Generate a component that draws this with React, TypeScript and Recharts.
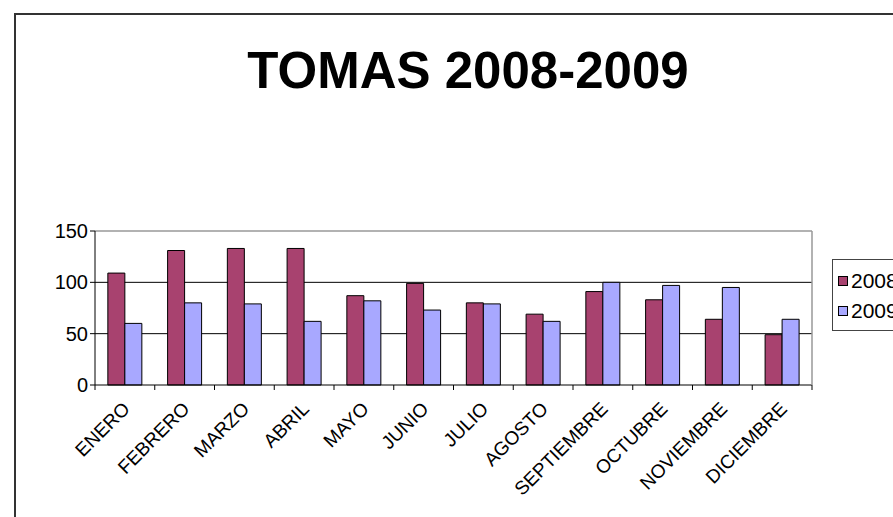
import {
  BarChart,
  Bar,
  XAxis,
  YAxis,
  CartesianGrid,
  Legend,
  ReferenceLine,
} from "recharts";

const meses = [
  "ENERO",
  "FEBRERO",
  "MARZO",
  "ABRIL",
  "MAYO",
  "JUNIO",
  "JULIO",
  "AGOSTO",
  "SEPTIEMBRE",
  "OCTUBRE",
  "NOVIEMBRE",
  "DICIEMBRE",
];
const tomas2008 = [109, 131, 133, 133, 87, 99, 80, 69, 91, 83, 64, 49];
const tomas2009 = [60, 80, 79, 62, 82, 73, 79, 62, 100, 97, 95, 64];
const yTicks = [0, 50, 100, 150];

const series = [
  { key: "s2008", name: "2008", color: "#A8426F" },
  { key: "s2009", name: "2009", color: "#A8A8FF" },
];

const data = meses.map((mes, i) => ({
  mes,
  s2008: tomas2008[i],
  s2009: tomas2009[i],
}));

const FONT = "'Liberation Sans', Arial, sans-serif";

// Excel-style category axis: tick marks sit between categories, labels slanted
function MonthTick(props: any) {
  const { x, y, payload, index, width } = props;
  const half = payload?.offset ?? width / meses.length / 2;
  const axisY = y - 8;
  const tx = x + 6;
  const ty = axisY + 25;
  return (
    <g>
      <line x1={x - half} y1={axisY} x2={x - half} y2={axisY + 5} stroke="#000" />
      {index === meses.length - 1 && (
        <line x1={x + half} y1={axisY} x2={x + half} y2={axisY + 5} stroke="#000" />
      )}
      <text
        x={tx}
        y={ty}
        transform={`rotate(-45, ${tx}, ${ty})`}
        textAnchor="end"
        fontSize={19}
        fontFamily={FONT}
        fill="#000"
      >
        {payload.value}
      </text>
    </g>
  );
}

function LegendBox(props: any) {
  const items = props.payload ?? [];
  return (
    <div
      style={{
        border: "1.5px solid #444",
        background: "#fff",
        width: 90,
        height: 72,
        paddingTop: 6,
        boxSizing: "border-box",
        fontFamily: FONT,
        fontSize: 21,
        color: "#000",
      }}
    >
      {items.map((it: any) => (
        <div
          key={it.value}
          style={{ display: "flex", alignItems: "center", height: 30, paddingLeft: 5 }}
        >
          <span
            style={{
              display: "inline-block",
              width: 8,
              height: 8,
              border: "1px solid #000",
              background: it.color,
              marginRight: 3,
            }}
          />
          {it.value}
        </div>
      ))}
    </div>
  );
}

export default function App() {
  return (
    <div
      style={{
        position: "absolute",
        left: 0,
        top: 0,
        width: 893,
        height: 517,
        overflow: "hidden",
        background: "#fff",
      }}
    >
      <div
        style={{
          position: "absolute",
          left: 14,
          top: 13,
          width: 950,
          height: 600,
          border: "2px solid #333",
        }}
      />
      <div
        style={{
          position: "absolute",
          left: 0,
          top: 45,
          width: 936,
          textAlign: "center",
          fontFamily: FONT,
          fontWeight: "bold",
          fontSize: 51,
          lineHeight: "51px",
          color: "#000",
        }}
      >
        TOMAS 2008-2009
      </div>
      <div style={{ position: "absolute", left: 0, top: 0 }}>
        <BarChart
          width={893}
          height={517}
          data={data}
          margin={{ top: 231, right: 80, bottom: 0, left: 0 }}
          barCategoryGap="21.5%"
          barGap={0}
        >
          <CartesianGrid
            vertical={false}
            horizontalValues={[50, 100]}
            stroke="#000"
            strokeWidth={1}
          />
          <ReferenceLine y={150} stroke="#999" strokeWidth={1.5} />
          <XAxis
            dataKey="mes"
            interval={0}
            height={132}
            axisLine={{ stroke: "#000" }}
            tickLine={false}
            tick={<MonthTick />}
          />
          <YAxis
            domain={[0, 150]}
            ticks={yTicks}
            width={95}
            axisLine={{ stroke: "#000" }}
            tickLine={{ stroke: "#000" }}
            tickSize={5}
            tickMargin={2}
            tick={{ fontSize: 20, fontFamily: FONT, fill: "#000" }}
          />
          <YAxis
            yAxisId="borde"
            orientation="right"
            width={1}
            tick={false}
            tickLine={false}
            axisLine={{ stroke: "#999", strokeWidth: 1.5 }}
          />
          <Legend
            layout="vertical"
            align="center"
            verticalAlign="middle"
            content={<LegendBox />}
            wrapperStyle={{ position: "absolute", left: 832, top: 259, width: 90 }}
          />
          {series.map((s) => (
            <Bar
              key={s.key}
              dataKey={s.key}
              name={s.name}
              fill={s.color}
              stroke="#000"
              strokeWidth={1}
              isAnimationActive={false}
            />
          ))}
        </BarChart>
      </div>
    </div>
  );
}
